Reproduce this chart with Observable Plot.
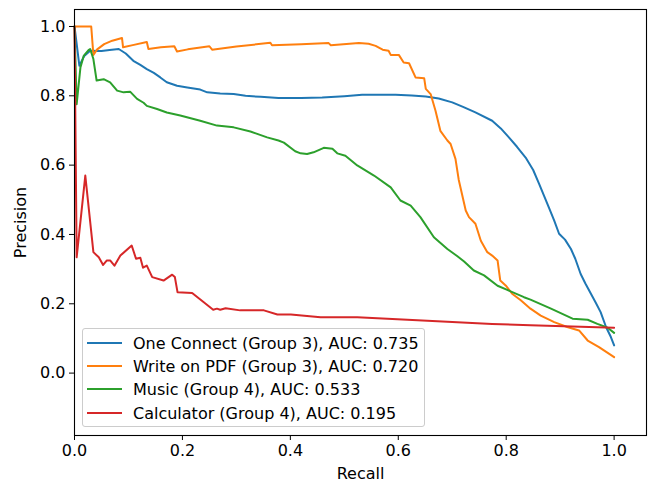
<!DOCTYPE html>
<html>
<head>
<meta charset="utf-8">
<script src="https://cdn.jsdelivr.net/npm/d3@7"></script>
<script src="https://cdn.jsdelivr.net/npm/@observablehq/plot@0.6"></script>
<style>
  body { margin: 0; background: #fff; font-family: "DejaVu Sans", sans-serif; }
  #wrap { position: relative; width: 655px; height: 483px; }
  #legend { position: absolute; left: 82px; top: 328px; width: 343px; height: 99px;
    border: 1px solid #cccccc; border-radius: 3px; background: rgba(255,255,255,0.8); box-sizing: border-box; }
  .row { position: absolute; left: 0; height: 20px; display: flex; align-items: center; font-size: 16px; color: #000; white-space: nowrap; }
  .row svg { margin-left: 4px; margin-right: 11px; }
</style>
</head>
<body>
<div id="wrap"><div id="chart"></div><div id="legend"></div></div>
<script>
// Series names, colors
const seriesNames = [
  "One Connect (Group 3), AUC: 0.735",
  "Write on PDF (Group 3), AUC: 0.720",
  "Music (Group 4), AUC: 0.533",
  "Calculator (Group 4), AUC: 0.195"
];
const seriesColors = ["#1f77b4", "#ff7f0e", "#2ca02c", "#d62728"];

// One Connect
const oneConnectRecall = [0, 0.009, 0.018, 0.029, 0.05, 0.065, 0.082, 0.095, 0.109, 0.122, 0.134, 0.147, 0.159, 0.171, 0.190, 0.209, 0.233, 0.246, 0.27, 0.295, 0.317, 0.345, 0.378, 0.42, 0.459, 0.50, 0.533, 0.558, 0.595, 0.625, 0.651, 0.675, 0.700, 0.72, 0.743, 0.774, 0.790, 0.805, 0.820, 0.836, 0.850, 0.861, 0.870, 0.879, 0.889, 0.898, 0.909, 0.920, 0.928, 0.938, 0.947, 0.957, 0.966, 0.975, 0.985, 0.994, 1.0];
const oneConnectPrecision = [1.0, 0.887, 0.915, 0.930, 0.929, 0.932, 0.935, 0.922, 0.901, 0.889, 0.877, 0.866, 0.853, 0.839, 0.829, 0.824, 0.818, 0.810, 0.807, 0.805, 0.800, 0.797, 0.794, 0.794, 0.795, 0.799, 0.803, 0.803, 0.803, 0.801, 0.798, 0.792, 0.781, 0.768, 0.752, 0.728, 0.706, 0.680, 0.653, 0.622, 0.586, 0.546, 0.512, 0.478, 0.440, 0.402, 0.385, 0.358, 0.330, 0.286, 0.258, 0.229, 0.203, 0.176, 0.133, 0.104, 0.080];

// Write on PDF
const writePdfRecall = [0, 0.031, 0.035, 0.042, 0.055, 0.07, 0.088, 0.09, 0.11, 0.134, 0.137, 0.16, 0.185, 0.19, 0.21, 0.25, 0.255, 0.30, 0.363, 0.366, 0.42, 0.471, 0.475, 0.527, 0.545, 0.558, 0.571, 0.582, 0.586, 0.601, 0.610, 0.620, 0.632, 0.648, 0.651, 0.660, 0.669, 0.678, 0.691, 0.697, 0.706, 0.712, 0.725, 0.731, 0.743, 0.753, 0.765, 0.774, 0.784, 0.789, 0.799, 0.811, 0.827, 0.845, 0.864, 0.889, 0.913, 0.935, 0.951, 0.972, 1.0];
const writePdfPrecision = [1.0, 1.0, 0.918, 0.934, 0.949, 0.959, 0.967, 0.940, 0.947, 0.955, 0.935, 0.940, 0.943, 0.928, 0.934, 0.943, 0.933, 0.942, 0.953, 0.946, 0.949, 0.952, 0.946, 0.952, 0.950, 0.944, 0.933, 0.930, 0.918, 0.918, 0.896, 0.894, 0.853, 0.851, 0.820, 0.805, 0.757, 0.699, 0.671, 0.661, 0.618, 0.558, 0.469, 0.450, 0.431, 0.382, 0.349, 0.339, 0.325, 0.267, 0.253, 0.229, 0.210, 0.186, 0.166, 0.147, 0.133, 0.123, 0.094, 0.075, 0.046];

// Music
const musicRecall = [0, 0.004, 0.011, 0.017, 0.026, 0.029, 0.035, 0.041, 0.054, 0.066, 0.079, 0.091, 0.103, 0.116, 0.128, 0.134, 0.153, 0.171, 0.196, 0.233, 0.264, 0.295, 0.326, 0.357, 0.378, 0.388, 0.409, 0.419, 0.431, 0.443, 0.462, 0.478, 0.487, 0.502, 0.524, 0.555, 0.586, 0.604, 0.623, 0.641, 0.666, 0.691, 0.709, 0.722, 0.740, 0.759, 0.784, 0.802, 0.833, 0.845, 0.883, 0.923, 0.951, 0.969, 0.988, 1.0];
const musicPrecision = [1.0, 0.776, 0.882, 0.915, 0.932, 0.935, 0.906, 0.844, 0.848, 0.839, 0.815, 0.810, 0.812, 0.791, 0.780, 0.771, 0.762, 0.752, 0.743, 0.728, 0.714, 0.709, 0.697, 0.680, 0.671, 0.665, 0.640, 0.634, 0.632, 0.637, 0.650, 0.647, 0.634, 0.627, 0.599, 0.570, 0.536, 0.498, 0.483, 0.450, 0.392, 0.358, 0.338, 0.322, 0.296, 0.282, 0.252, 0.240, 0.219, 0.212, 0.186, 0.157, 0.154, 0.142, 0.131, 0.116];

// Calculator
const calculatorRecall = [0, 0.004, 0.020, 0.035, 0.045, 0.053, 0.060, 0.066, 0.074, 0.085, 0.106, 0.114, 0.122, 0.127, 0.134, 0.144, 0.165, 0.181, 0.186, 0.191, 0.218, 0.239, 0.257, 0.264, 0.270, 0.280, 0.307, 0.351, 0.376, 0.401, 0.456, 0.524, 0.617, 0.774, 0.845, 1.0];
const calculatorPrecision = [1.0, 0.334, 0.570, 0.349, 0.334, 0.312, 0.325, 0.325, 0.310, 0.339, 0.368, 0.330, 0.333, 0.304, 0.310, 0.277, 0.267, 0.284, 0.277, 0.233, 0.231, 0.205, 0.183, 0.186, 0.183, 0.187, 0.181, 0.181, 0.169, 0.169, 0.161, 0.161, 0.154, 0.142, 0.138, 0.131];

const tickValues = [0, 0.2, 0.4, 0.6, 0.8, 1.0];

const seriesArrays = [
  [oneConnectRecall, oneConnectPrecision],
  [writePdfRecall, writePdfPrecision],
  [musicRecall, musicPrecision],
  [calculatorRecall, calculatorPrecision]
];
const tables = seriesArrays.map(([r, p], i) => r.map((x, j) => ({series: seriesNames[i], recall: x, precision: p[j]})));

const fmt = d3.format(".1f");
const chart = Plot.plot({
  width: 655,
  height: 483,
  marginLeft: 74,
  marginRight: 9,
  marginTop: 9,
  marginBottom: 48,
  style: {fontFamily: "DejaVu Sans, sans-serif", fontSize: "16px", color: "#000", background: "#fff"},
  x: {domain: [0, 1.06]},
  y: {domain: [-0.18, 1.049]},
  color: {domain: seriesNames, range: seriesColors},
  marks: [
    ...tables.map(t => Plot.line(t, {x: "recall", y: "precision", stroke: "series", strokeWidth: 2, strokeLinejoin: "round"})),
    Plot.frame({stroke: "#000", strokeWidth: 1.1}),
    Plot.axisX({ticks: tickValues, tickFormat: fmt, tickSize: 5, tickPadding: 4, label: "Recall", labelAnchor: "center", labelArrow: "none", labelOffset: 43, fontSize: 16}),
    Plot.axisY({ticks: tickValues, tickFormat: fmt, tickSize: 5, tickPadding: 4, label: "Precision", labelAnchor: "center", labelArrow: "none", labelOffset: 60, fontSize: 16})
  ]
});
document.getElementById("chart").appendChild(chart);

// Legend
const legend = document.getElementById("legend");
const rowTops = [4, 27, 50, 74];
seriesNames.forEach((name, i) => {
  const row = document.createElement("div");
  row.className = "row";
  row.style.top = rowTops[i] + "px";
  row.innerHTML = `<svg width="35" height="4"><line x1="0" x2="35" y1="2" y2="2" stroke="${seriesColors[i]}" stroke-width="2"/></svg><span>${name}</span>`;
  legend.appendChild(row);
});
</script>
</body>
</html>
